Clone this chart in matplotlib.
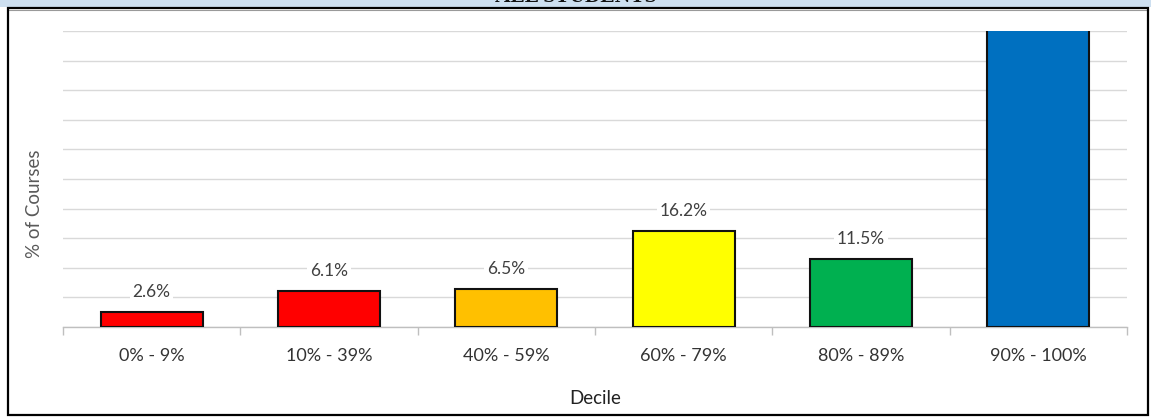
import matplotlib.pyplot as plt
from matplotlib.patches import Rectangle

deciles = ['0% - 9%', '10% - 39%', '40% - 59%', '60% - 79%', '80% - 89%', '90% - 100%']
pct_courses = [2.6, 6.1, 6.5, 16.2, 11.5, 57.1]
bar_colors = ['#ff0000', '#ff0000', '#ffc000', '#ffff00', '#00b050', '#0070c0']

W, H = 1151, 417
fig = plt.figure(figsize=(W / 100, H / 100), dpi=100)
plt.rcParams['font.family'] = ['Lato', 'DejaVu Sans']

# header band with the title mostly above the page edge
fig.patches.append(Rectangle((0, 1 - 7 / H), 1, 7 / H, transform=fig.transFigure,
                             facecolor='#cddff0', edgecolor='none', zorder=0))
fig.text(0.5, 1 - 2 / H, 'ALL STUDENTS', ha='center', va='baseline', fontsize=15.5,
         fontweight='bold', family='Liberation Serif', color='#111111')
# outer frame
fig.patches.append(Rectangle((8 / W, 2 / H), 1140 / W, (H - 10) / H, transform=fig.transFigure,
                             facecolor='none', edgecolor='black', linewidth=1.6, zorder=5))
fig.add_artist(plt.Line2D([8 / W, 1148 / W], [1 - 10 / H, 1 - 10 / H],
                          transform=fig.transFigure, color='#9a9a9a', linewidth=0.8))

ax = fig.add_axes([63 / W, 90 / H, 1064 / W, 296 / H])
x = range(len(deciles))
bars = ax.bar(x, pct_courses, width=0.575, color=bar_colors, edgecolor='#111111',
              linewidth=1.5, zorder=3)
ax.set_ylim(0, 50)
ax.set_xlim(-0.5, len(deciles) - 0.5)

ax.set_yticks(range(0, 51, 5))
ax.yaxis.grid(True, color='#d9d9d9', linewidth=1.0, zorder=0)
ax.tick_params(axis='y', left=False, labelleft=False)
for side in ['top', 'right', 'left']:
    ax.spines[side].set_visible(False)
ax.spines['bottom'].set_color('#bfbfbf')
ax.spines['bottom'].set_linewidth(1.0)

ax.set_xticks(x)
ax.set_xticklabels(deciles, fontsize=13, color='#333333')
ax.tick_params(axis='x', length=0, pad=15)
# category boundary ticks
ax.set_xticks([i - 0.5 for i in range(len(deciles) + 1)], minor=True)
ax.tick_params(axis='x', which='minor', length=6, color='#bfbfbf', width=1.0)

for b, v in zip(bars, pct_courses):
    if v < 50:
        ax.text(b.get_x() + b.get_width() / 2, v + 2.0, f'{v}%', ha='center', va='bottom',
                fontsize=12.5, color='#404040', zorder=4,
                bbox=dict(facecolor='white', edgecolor='none', pad=2))

ax.set_xlabel('Decile', fontsize=13.5, color='#222222', labelpad=19)
ax.set_ylabel('% of Courses', fontsize=13.5, color='#595959')
ax.yaxis.set_label_coords(-0.019, 0.416)

fig.savefig('out.png', dpi=100)
